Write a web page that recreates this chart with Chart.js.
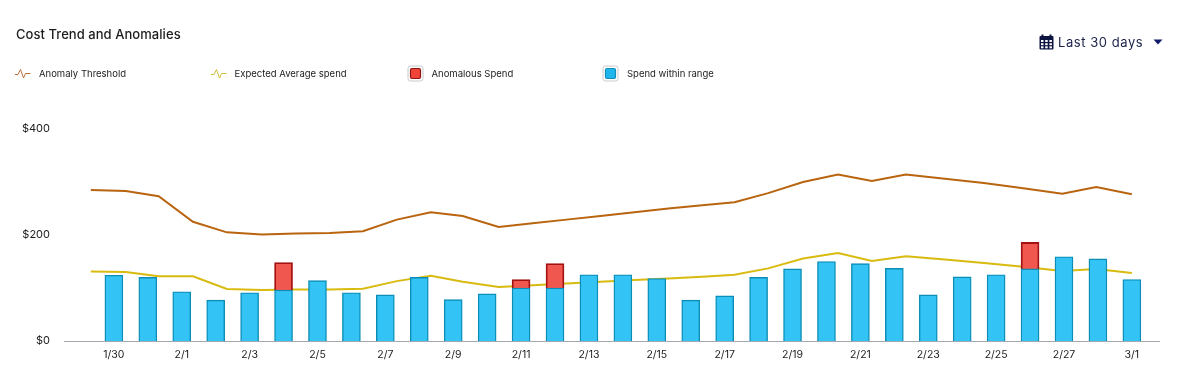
<!DOCTYPE html>
<html><head><meta charset="utf-8">
<style>
html,body{margin:0;padding:0;background:#fff;width:1200px;height:371px;overflow:hidden;font-family:Inter,"Noto Sans",sans-serif;color:#1c1c1e}
#wrap{position:relative;width:1200px;height:371px}
canvas{position:absolute;left:0;top:0}
.t{position:absolute;white-space:nowrap;line-height:1}
.i{position:absolute}
</style></head><body>
<div id="wrap">
<canvas id="c" width="1200" height="371"></canvas>
<div class="t" style="left:16px;top:28px;font-size:13px;font-weight:500;letter-spacing:.05px">Cost Trend and Anomalies</div>

<svg class="i" style="left:15px;top:67px" width="16" height="14" viewBox="0 0 16 14"><path d="M0 7.5H3L5.5 2.5L8.5 11L10.5 6.5H15.5" fill="none" stroke="#b9703a" stroke-width="1"/></svg>
<div class="t" style="left:39px;top:69px;font-size:9.5px">Anomaly Threshold</div>
<svg class="i" style="left:211px;top:67px" width="16" height="14" viewBox="0 0 16 14"><path d="M0 7.5H3L5.5 2.5L8.5 11L10.5 6.5H15.5" fill="none" stroke="#c9bd3a" stroke-width="1"/></svg>
<div class="t" style="left:234.500px;top:69px;font-size:9.5px">Expected Average spend</div>
<svg class="i" style="left:407px;top:65px" width="18" height="18" viewBox="0 0 18 18"><rect x="1" y="1" width="15" height="15" rx="2.500" fill="#fff" stroke="#c9c9cc"/><rect x="3.500" y="3.500" width="10" height="10" rx="1.500" fill="#f0443a" stroke="#8f1414" stroke-width="1.200"/></svg>
<div class="t" style="left:431.500px;top:69px;font-size:9.5px">Anomalous Spend</div>
<svg class="i" style="left:602px;top:65px" width="18" height="18" viewBox="0 0 18 18"><rect x="1" y="1" width="15" height="15" rx="2.500" fill="#fff" stroke="#c9c9cc"/><rect x="3.500" y="3.500" width="10" height="10" rx="1.500" fill="#1fb6ee" stroke="#128db8" stroke-width="1.200"/></svg>
<div class="t" style="left:627px;top:69px;font-size:9.5px">Spend within range</div>

<svg class="i" style="left:1039px;top:34px" width="15" height="16" viewBox="0 0 15 16"><rect x="0.500" y="2" width="14" height="13.500" rx="1" fill="#0d1440"/><rect x="2.500" y="0.500" width="2" height="3" fill="#0d1440"/><rect x="10.500" y="0.500" width="2" height="3" fill="#0d1440"/><g fill="#fff"><rect x="2" y="6" width="2.500" height="2"/><rect x="6.200" y="6" width="2.500" height="2"/><rect x="10.400" y="6" width="2.500" height="2"/><rect x="2" y="9.200" width="2.500" height="2"/><rect x="6.200" y="9.200" width="2.500" height="2"/><rect x="10.400" y="9.200" width="2.500" height="2"/><rect x="2" y="12.300" width="2.500" height="2"/><rect x="6.200" y="12.300" width="2.500" height="2"/><rect x="10.400" y="12.300" width="2.500" height="2"/></g></svg>
<div class="t" style="left:1058px;top:36px;font-size:13px;letter-spacing:.55px;color:#1a2148">Last 30 days</div>
<svg class="i" style="left:1153px;top:39px" width="10" height="7" viewBox="0 0 10 7"><path d="M0.500 0.500H9.500L5 5.500Z" fill="#0f1a6b"/></svg>
</div>
<script src="https://cdn.jsdelivr.net/npm/chart.js@4"></script>
<script>
const categories = ["1/30","1/31","2/1","2/2","2/3","2/4","2/5","2/6","2/7","2/8","2/9","2/10","2/11","2/12","2/13","2/14","2/15","2/16","2/17","2/18","2/19","2/20","2/21","2/22","2/23","2/24","2/25","2/26","2/27","2/28","3/1"];
const withinRange = [124,120,93,77,91,96,114,91,87,120,78,89,100,100,125,125,118,77,85,120,136,150,146,137,87,121,125,136,159,155,116];
const anomalous   = [0,0,0,0,0,52,0,0,0,0,0,0,16,46,0,0,0,0,0,0,0,0,0,0,0,0,0,50,0,0,0];
// The two lines are offset from the bars: their positions are days since 1/30.
const lineDays  = [-0.68,0.35,1.32,2.33,3.33,4.36,5.36,6.36,7.34,8.34,9.34,10.28,11.34,12.34,13.34,14.34,15.34,16.34,17.34,18.29,19.28,20.31,21.34,22.34,23.34,24.49,25.64,26.8,27.95,28.95,30];
const threshold = [285,283,273,225,205,201,203,204,207,229,243,236,215,222,229,236,243,250,256,262,279,300,314,302,314,306,298,288,278,290.5,277];
const expected  = [131,130,122,122,98,96,97,97,98.5,113,123,112,102,105,108.5,112,115,118,121,125,137,155.5,166,151,160,154,147,140,132,136,128.5];
const shownTicks = [0,2,4,6,8,10,12,14,16,18,20,22,24,26,28,30];

const zip = (xs,ys)=>xs.map((x,i)=>({x,y:ys[i]}));

new Chart(document.getElementById('c'),{
  data:{datasets:[
    {type:'bar',label:'Spend within range',data:withinRange.map((y,x)=>({x,y})),backgroundColor:'#33c3f5',borderColor:'#0c8db5',borderWidth:1.4,barThickness:18,stack:'s',order:2},
    {type:'bar',label:'Anomalous Spend',data:anomalous.map((y,x)=>({x,y})),backgroundColor:'#f0584f',borderColor:'#a31212',borderWidth:1.8,barThickness:18,stack:'s',order:2},
    {type:'line',label:'Anomaly Threshold',data:zip(lineDays,threshold),borderColor:'#b9640f',borderWidth:2,pointRadius:0,tension:0,stack:'a',order:3},
    {type:'line',label:'Expected Average spend',data:zip(lineDays,expected),borderColor:'#d9bb10',borderWidth:2,pointRadius:0,tension:0,stack:'b',order:3}
  ]},
  options:{
    responsive:false,animation:false,
    layout:{padding:{left:0,right:41,top:129,bottom:0}},
    plugins:{legend:{display:false},tooltip:{enabled:false},title:{display:false}},
    scales:{
      x:{type:'linear',offset:false,min:-1.47,max:30.8,
        grid:{display:false,drawTicks:false,offset:false},
        border:{display:true,color:'#a3a8b0',width:1},
        afterBuildTicks:s=>{s.ticks=shownTicks.map(v=>({value:v}));},
        afterFit:s=>{s.height=30;},
        ticks:{autoSkip:false,maxRotation:0,padding:8,color:'#1c1c1e',font:{family:'Inter',size:10.5},callback:v=>categories[v]}
      },
      y:{min:0,max:400,stacked:true,
        grid:{display:false,drawTicks:false},
        border:{display:false},
        afterFit:s=>{s.width=64;},
        ticks:{stepSize:200,padding:14,color:'#1c1c1e',font:{family:'Inter',size:11},callback:v=>'$'+v}
      }
    }
  }
});
</script>
</body></html>
